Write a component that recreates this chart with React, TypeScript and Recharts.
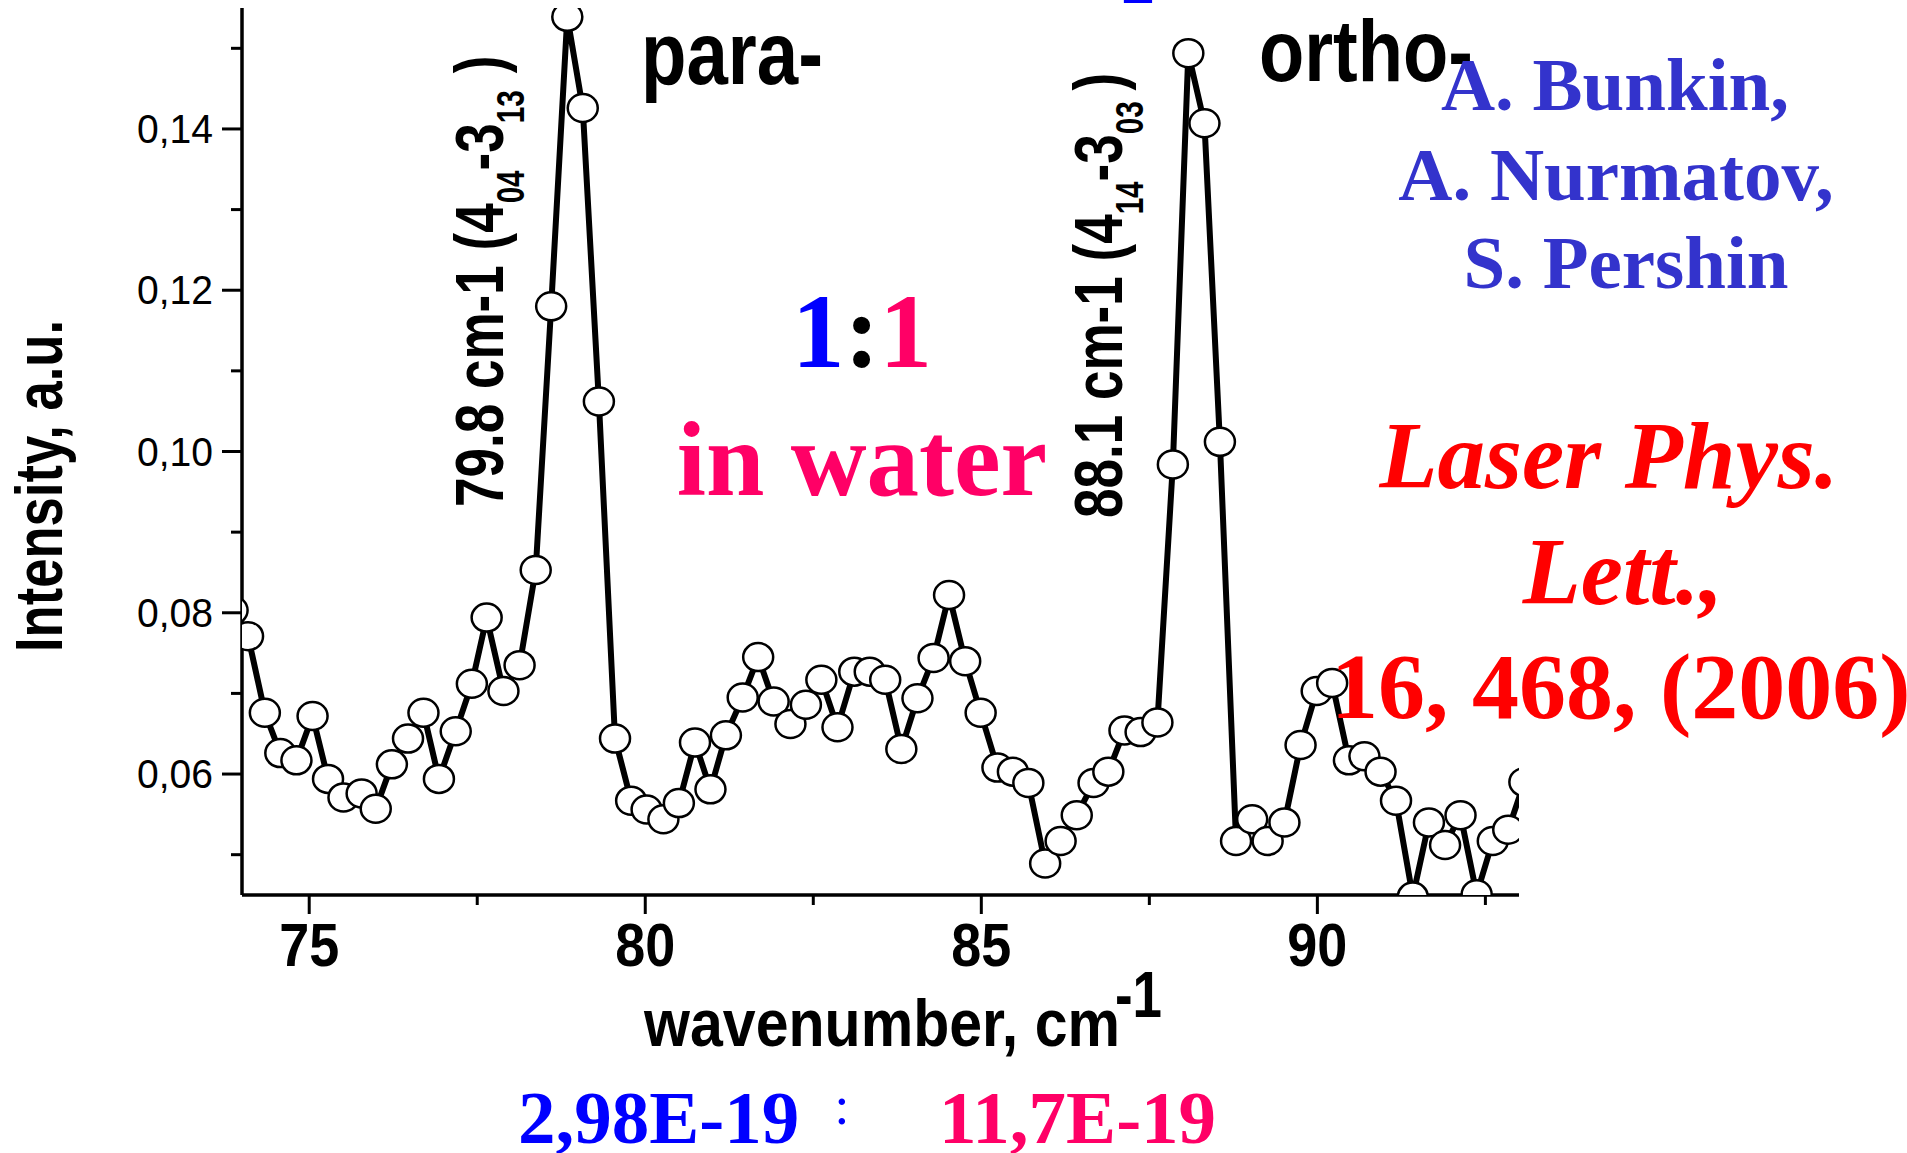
import React from "react";
import { LineChart, Line, XAxis, YAxis } from "recharts";

// wavenumber (cm-1) of each measured point
const wavenumber = [
  73.86, 74.09, 74.34, 74.57, 74.81, 75.05, 75.28, 75.51, 75.78, 75.99,
  76.23, 76.47, 76.7, 76.93, 77.18, 77.42, 77.64, 77.89, 78.13, 78.37,
  78.6, 78.84, 79.07, 79.31, 79.55, 79.79, 80.02, 80.27, 80.5, 80.74,
  80.97, 81.2, 81.45, 81.68, 81.91, 82.16, 82.39, 82.62, 82.86, 83.11,
  83.34, 83.57, 83.81, 84.05, 84.29, 84.52, 84.76, 84.99, 85.24, 85.47,
  85.7, 85.95, 86.18, 86.42, 86.67, 86.89, 87.13, 87.37, 87.62, 87.85,
  88.08, 88.32, 88.55, 88.79, 89.03, 89.26, 89.51, 89.75, 89.99, 90.22,
  90.47, 90.7, 90.94, 91.17, 91.42, 91.66, 91.9, 92.13, 92.37, 92.61,
  92.84, 93.08,
];

// intensity, a.u.
const intensity = [
  0.0803, 0.0771, 0.0676, 0.0626, 0.0617, 0.0672, 0.0594, 0.0571, 0.0576, 0.0557,
  0.0612, 0.0644, 0.0676, 0.0594, 0.0653, 0.0712, 0.0794, 0.0703, 0.0735, 0.0853,
  0.118, 0.1539, 0.1426, 0.1062, 0.0644, 0.0567, 0.0556, 0.0544, 0.0564, 0.0639,
  0.0581, 0.0648, 0.0695, 0.0745, 0.069, 0.0662, 0.0686, 0.0717, 0.0658, 0.0727,
  0.0727, 0.0717, 0.0631, 0.0694, 0.0744, 0.0822, 0.074, 0.0676, 0.0608, 0.0603,
  0.0589, 0.0489, 0.0517, 0.0549, 0.0589, 0.0603, 0.0654, 0.0652, 0.0664, 0.0984,
  0.1494, 0.1407, 0.1012, 0.0517, 0.0544, 0.0517, 0.054, 0.0636, 0.0703, 0.0713,
  0.0617, 0.0622, 0.0603, 0.0567, 0.0448, 0.054, 0.0512, 0.0549, 0.0451, 0.0517,
  0.0531, 0.059,
];

const xDomain = [74, 93];
const yDomain = [0.045, 0.155];

const xMajorTicks = [75, 80, 85, 90];
const xTickLabels = ["75", "80", "85", "90"];
const xMinorTicks = [77.5, 82.5, 87.5, 92.5];

const yMajorTicks = [0.06, 0.08, 0.1, 0.12, 0.14];
const yTickLabels = ["0,06", "0,08", "0,10", "0,12", "0,14"];
const yMinorTicks = [0.05, 0.07, 0.09, 0.11, 0.13, 0.15];

const data = wavenumber.map((x, i) => ({ x, y: intensity[i] }));

const SANS = "'Liberation Sans', Arial, Helvetica, sans-serif";
const SERIF = "'Liberation Serif', 'Times New Roman', Times, serif";
const BLUE = "#0000ff";
const PINK = "#ff0066";
const AUTH = "#3333cc";
const RED = "#ff0000";

const findIdx = (arr: number[], v: number) =>
  arr.findIndex((t) => Math.abs(t - v) < 1e-6);

const XTick = (props: any) => {
  const { x, y, payload } = props;
  const idx = findIdx(xMajorTicks, payload.value);
  const major = idx >= 0;
  return (
    <g>
      <line x1={x} x2={x} y1={y} y2={y + (major ? 19 : 10)} stroke="#000" strokeWidth={3} />
      {major && (
        <text
          x={x}
          y={y + 71}
          textAnchor="middle"
          fontFamily={SANS}
          fontWeight="bold"
          fontSize={62}
          fill="#000"
          textLength={60}
          lengthAdjust="spacingAndGlyphs"
        >
          {xTickLabels[idx]}
        </text>
      )}
    </g>
  );
};

const YTick = (props: any) => {
  const { x, y, payload } = props;
  const idx = findIdx(yMajorTicks, payload.value);
  const major = idx >= 0;
  return (
    <g>
      <line x1={x} x2={x - (major ? 20 : 11)} y1={y} y2={y} stroke="#000" strokeWidth={3} />
      {major && (
        <text
          x={x - 29}
          y={y + 14}
          textAnchor="end"
          fontFamily={SANS}
          fontSize={40}
          fill="#000"
          textLength={76}
          lengthAdjust="spacingAndGlyphs"
        >
          {yTickLabels[idx]}
        </text>
      )}
    </g>
  );
};

const Dot = (props: any) => {
  const { cx, cy, index } = props;
  if (cx == null || cy == null) return <g key={`d${index}`} />;
  return (
    <ellipse
      key={`d${index}`}
      cx={cx}
      cy={cy}
      rx={15}
      ry={14}
      fill="#fff"
      stroke="#000"
      strokeWidth={2.5}
    />
  );
};

const Overlay = () => (
  <svg
    width={1907}
    height={1153}
    style={{ position: "absolute", left: 0, top: 0, pointerEvents: "none" }}
  >
    {/* clipped blue glyph at the very top */}
    <text x={1138} y={2.5} textAnchor="middle" fontFamily={SERIF} fontWeight="bold" fontSize={68} fill={BLUE}>
      2
    </text>

    {/* y axis title */}
    <text
      transform="translate(62,486) rotate(-90)"
      textAnchor="middle"
      fontFamily={SANS}
      fontWeight="bold"
      fontSize={67}
      fill="#000"
      textLength={332}
      lengthAdjust="spacingAndGlyphs"
    >
      Intensity, a.u.
    </text>

    {/* x axis title */}
    <text
      x={644}
      y={1046}
      fontFamily={SANS}
      fontWeight="bold"
      fontSize={66}
      fill="#000"
      textLength={476}
      lengthAdjust="spacingAndGlyphs"
    >
      wavenumber, cm
    </text>
    <text
      x={1115}
      y={1017}
      fontFamily={SANS}
      fontWeight="bold"
      fontSize={64}
      fill="#000"
      textLength={47}
      lengthAdjust="spacingAndGlyphs"
    >
      -1
    </text>

    {/* bottom ratio */}
    <text x={518} y={1143} fontFamily={SERIF} fontWeight="bold" fontSize={75} fill={BLUE}>
      2,98E-19
    </text>
    <text x={842} y={1124} textAnchor="middle" fontFamily={SERIF} fontSize={55} fill={BLUE}>
      :
    </text>
    <text x={939} y={1143} fontFamily={SERIF} fontWeight="bold" fontSize={75} fill={PINK}>
      11,7E-19
    </text>

    {/* para / ortho */}
    <text
      x={641}
      y={84}
      fontFamily={SANS}
      fontWeight="bold"
      fontSize={89}
      fill="#000"
      textLength={182}
      lengthAdjust="spacingAndGlyphs"
    >
      para-
    </text>
    <text
      x={1259}
      y={81}
      fontFamily={SANS}
      fontWeight="bold"
      fontSize={87}
      fill="#000"
      textLength={214}
      lengthAdjust="spacingAndGlyphs"
    >
      ortho-
    </text>

    {/* vertical line labels */}
    <g transform="translate(503,507) rotate(-90) scale(0.78,1)">
      <text x={0} y={0} fontFamily={SANS} fontWeight="bold" fontSize={68} fill="#000">
        79.8 cm-1 (4
        <tspan fontSize={38} dy={21}>04</tspan>
        <tspan dy={-21}>-3</tspan>
        <tspan fontSize={38} dy={21}>13</tspan>
        <tspan dy={-21} dx={22}>)</tspan>
      </text>
    </g>
    <g transform="translate(1122,518) rotate(-90) scale(0.78,1)">
      <text x={0} y={0} fontFamily={SANS} fontWeight="bold" fontSize={68} fill="#000">
        88.1 cm-1 (4
        <tspan fontSize={38} dy={21}>14</tspan>
        <tspan dy={-21}>-3</tspan>
        <tspan fontSize={38} dy={21}>03</tspan>
        <tspan dy={-21} dx={14}>)</tspan>
      </text>
    </g>

    {/* 1:1 in water */}
    <text x={862} y={367} textAnchor="middle" fontFamily={SERIF} fontWeight="bold" fontSize={105}>
      <tspan fill={BLUE}>1</tspan>
      <tspan fill="#000">:</tspan>
      <tspan fill={PINK}>1</tspan>
    </text>
    <text x={862} y={495} textAnchor="middle" fontFamily={SERIF} fontWeight="bold" fontSize={105} fill={PINK}>
      in water
    </text>

    {/* authors */}
    <text x={1615} y={110} textAnchor="middle" fontFamily={SERIF} fontWeight="bold" fontSize={75} fill={AUTH}>
      A. Bunkin,
    </text>
    <text x={1616} y={200} textAnchor="middle" fontFamily={SERIF} fontWeight="bold" fontSize={75} fill={AUTH}>
      A. Nurmatov,
    </text>
    <text x={1626} y={288} textAnchor="middle" fontFamily={SERIF} fontWeight="bold" fontSize={75} fill={AUTH}>
      S. Pershin
    </text>

    {/* reference */}
    <text x={1609} y={488} textAnchor="middle" fontFamily={SERIF} fontWeight="bold" fontStyle="italic" fontSize={95} fill={RED}>
      Laser Phys.
    </text>
    <text x={1623} y={604} textAnchor="middle" fontFamily={SERIF} fontWeight="bold" fontStyle="italic" fontSize={95} fill={RED}>
      Lett.,
    </text>
    <text x={1331} y={718} fontFamily={SERIF} fontWeight="bold" fontSize={94} fill={RED}>
      16, 468, (2006)
    </text>
  </svg>
);

export default function App() {
  return (
    <div style={{ position: "absolute", left: 0, top: 0, width: 1907, height: 1153, background: "#fff" }}>
      <LineChart
        width={1907}
        height={1153}
        data={data}
        margin={{ top: 8, right: 388, bottom: 178, left: 142 }}
      >
        <XAxis
          type="number"
          dataKey="x"
          domain={xDomain}
          allowDataOverflow
          ticks={[...xMajorTicks, ...xMinorTicks].sort((a, b) => a - b)}
          interval={0}
          tickSize={0}
          tickMargin={0}
          tickLine={false}
          tick={<XTick />}
          axisLine={{ stroke: "#000", strokeWidth: 3.5 }}
          height={80}
        />
        <YAxis
          type="number"
          domain={yDomain}
          allowDataOverflow
          ticks={[...yMajorTicks, ...yMinorTicks].sort((a, b) => a - b)}
          interval={0}
          tickSize={0}
          tickMargin={0}
          tickLine={false}
          tick={<YTick />}
          axisLine={{ stroke: "#000", strokeWidth: 3.5 }}
          width={100}
        />
        <Line
          type="linear"
          dataKey="y"
          stroke="#000"
          strokeWidth={6}
          dot={Dot}
          activeDot={false}
          isAnimationActive={false}
        />
      </LineChart>
      <Overlay />
    </div>
  );
}
